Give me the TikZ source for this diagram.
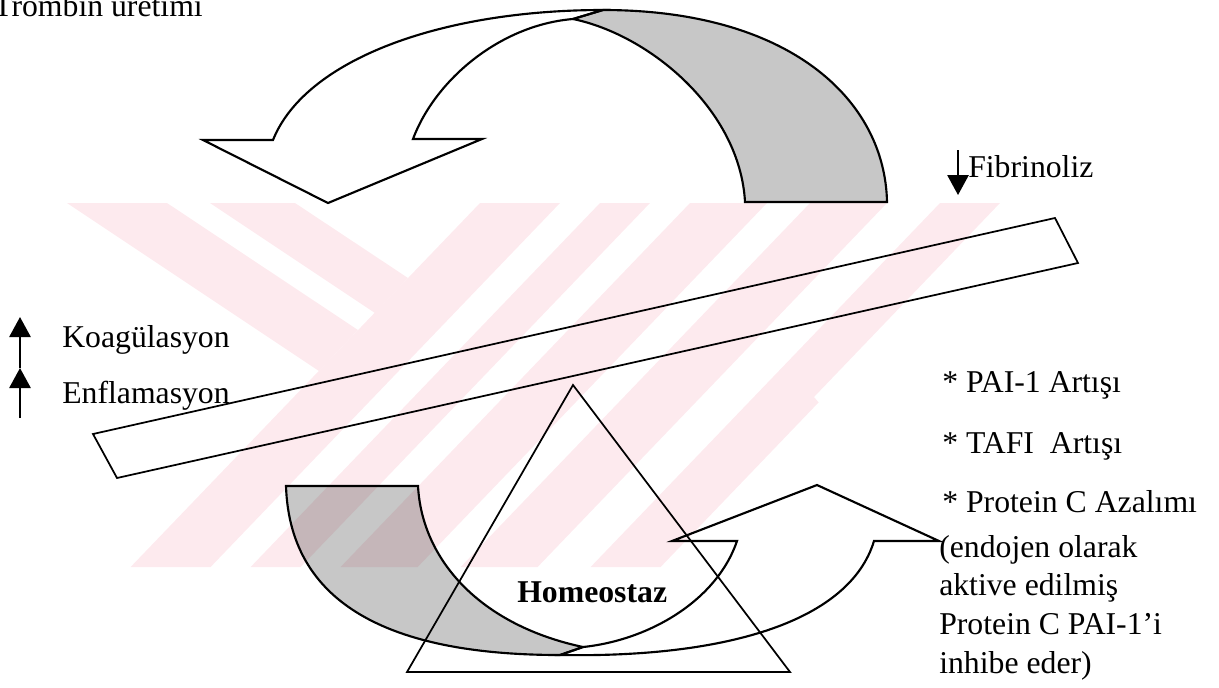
\documentclass[tikz,border=0pt]{standalone}
\usepackage{fontspec}
\setmainfont{Liberation Serif}
\usetikzlibrary{arrows.meta}
\definecolor{wmpink}{RGB}{253,234,238}
\begin{document}
\begin{tikzpicture}[x=0.75pt,y=-0.75pt,
  outl/.style={draw=black,line width=1.6pt,line join=miter},
  shadedfill/.style={fill=black!22,blend mode=multiply},
  thinline/.style={draw=black,line width=1.3pt},
  lbl/.style={anchor=base west,inner sep=0pt,font=\fontsize{23.8}{28}\selectfont},
  uparr/.style={line width=1.3pt,-{Triangle[width=16pt,length=15pt]}},
  wm/.style={fill=wmpink,draw=none},
]
\useasboundingbox (0,0) rectangle (1219,687);
\clip (0,0) rectangle (1219,687);

% faint watermark in the background
\begin{scope}
  \clip (0,203) -- (1000,203) -- (814,397) -- (960,567) -- (0,567) -- cycle;
  \fill[wm] (67,203) -- (167,203) -- (358,330) -- (319,371) -- cycle;
  \fill[wm] (210,203) -- (295,203) -- (408,278) -- (375,313) -- cycle;
  \foreach \a/\b in {480/560, 600/650, 690/767, 810/887, 940/1010}{
    \fill[wm] (\a,203) -- (\b,203) -- ({\b-349.4},567) -- ({\a-349.4},567) -- cycle;
  }
\end{scope}

% upper curved arrow
\draw[outl,fill=white] (203,140) -- (273,140) .. controls (305,60) and (440,10) .. (603,10)
  -- (573,19) .. controls (500,25) and (435,80) .. (413,139)
  -- (482,139) -- (328,203) -- cycle;
\path[shadedfill] (573,19) -- (603,10) .. controls (790,10) and (885,100) .. (887,202)
  -- (745,202) .. controls (740,110) and (650,35) .. (573,19) -- cycle;
\draw[outl] (573,19) -- (603,10) .. controls (790,10) and (885,100) .. (887,202)
  -- (745,202) .. controls (740,110) and (650,35) .. (573,19) -- cycle;

% slanted bar
\draw[thinline] (93,434) -- (1055,218) -- (1078,263) -- (117,478) -- cycle;

% lower curved arrow
\path[shadedfill] (286,486) -- (418,486) .. controls (422,560) and (480,625) .. (583,647)
  -- (560,655) .. controls (400,655) and (290,610) .. (286,486) -- cycle;
\draw[outl] (286,486) -- (418,486) .. controls (422,560) and (480,625) .. (583,647)
  -- (560,655) .. controls (400,655) and (290,610) .. (286,486) -- cycle;
\draw[outl] (560,655) .. controls (730,658) and (850,620) .. (874,541)
  -- (939,541) -- (817,485) -- (672,541) -- (737,541)
  .. controls (717,600) and (650,640) .. (583,647) -- cycle;

% triangle
\draw[thinline] (573,385) -- (790,672) -- (407,672) -- cycle;

% texts
\node[lbl] (tromb) at (-7,16) {Trombin üretimi};
\node[lbl] (fibr) at (968,177) {Fibrinoliz};
\coordinate (f1) at (958,150);
\coordinate (f2) at (958,195);
\draw[uparr] (f1) -- (f2);

\node[lbl] (koag) at (62,347) {Koagülasyon};
\node[lbl] (enfl) at (62,403) {Enflamasyon};
\coordinate (k0) at (20,368);
\coordinate (k1) at (20,317);
\coordinate (e0) at (20,418);
\draw[uparr] (k0) -- (k1);
\draw[uparr] (e0) -- (k0);

\node[lbl,font=\fontsize{23.8}{28}\selectfont\bfseries] (homeo) at (517,602) {Homeostaz};

\node[lbl] (pai) at (942,392) {* PAI-1 Artışı};
\node[lbl] (tafi) at (942,453) {* TAFI\ \ Artışı};
\node[lbl] (protc) at (942,512) {* Protein C Azalımı};
\node[lbl] (p1) at (939,557) {(endojen olarak};
\node[lbl] (p2) at (939,595) {aktive edilmiş};
\node[lbl] (p3) at (939,634) {Protein C PAI-1’i};
\node[lbl] (p4) at (939,673) {inhibe eder)};
\end{tikzpicture}
\end{document}
